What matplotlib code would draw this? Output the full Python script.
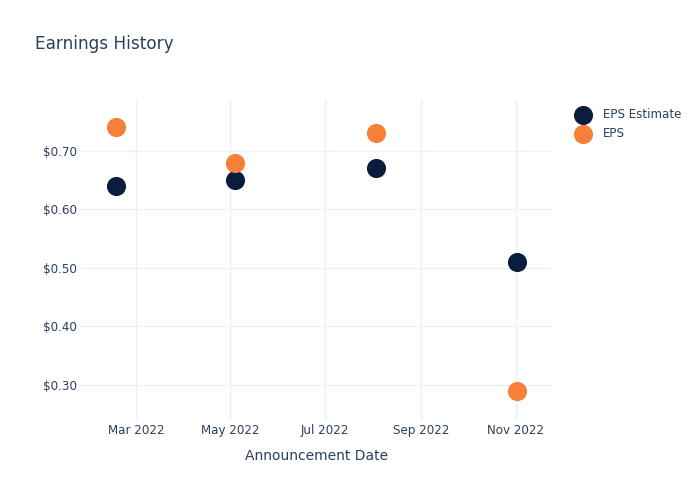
import pandas as pd
import matplotlib.pyplot as plt
import matplotlib.dates as mdates
from matplotlib.ticker import FuncFormatter

plt.rcParams['font.family'] = ['DejaVu Sans']

# datos
dates = pd.to_datetime(['2022-02-16', '2022-05-04', '2022-08-03', '2022-11-02'])
eps_estimate = [0.64, 0.65, 0.67, 0.51]
eps_actual = [0.74, 0.68, 0.73, 0.29]

txt = '#2a3f5f'
grid = '#ebf0f8'

fig = plt.figure(figsize=(7, 5), dpi=100)
ax = fig.add_axes([80/700, 80/500, 473/700, 320/500])

ax.scatter(dates, eps_estimate, s=190, c='#0b1d3f', label='EPS Estimate', zorder=3, linewidths=0)
ax.scatter(dates, eps_actual, s=190, c='#f77f38', label='EPS', zorder=3, linewidths=0)

ax.set_xlim(pd.Timestamp('2022-01-24'), pd.Timestamp('2022-11-25'))
ax.set_ylim(0.240, 0.787)

ax.xaxis.set_major_locator(mdates.MonthLocator(bymonth=[3, 5, 7, 9, 11]))
ax.xaxis.set_major_formatter(mdates.DateFormatter('%b %Y'))
ax.set_yticks([0.3, 0.4, 0.5, 0.6, 0.7])
ax.yaxis.set_major_formatter(FuncFormatter(lambda v, p: '${:.2f}'.format(v)))

ax.grid(True, color=grid, linewidth=1)
ax.set_axisbelow(True)
for s in ax.spines.values():
    s.set_visible(False)
ax.tick_params(length=0, colors=txt, labelsize=8.6)
ax.tick_params(axis='x', pad=3)
ax.tick_params(axis='y', pad=2)

ax.set_xlabel('Announcement Date', color=txt, fontsize=10, labelpad=8.5)
fig.text(35/700, 1 - 44/500, 'Earnings History', color=txt, fontsize=12.2, va='center')

leg = ax.legend(loc='upper left', bbox_to_anchor=(1.02, 1.0), frameon=False,
                fontsize=8.6, handletextpad=0.7, labelspacing=0.45, borderaxespad=0.3)
for t in leg.get_texts():
    t.set_color(txt)

fig.savefig('out.png', dpi=100)
